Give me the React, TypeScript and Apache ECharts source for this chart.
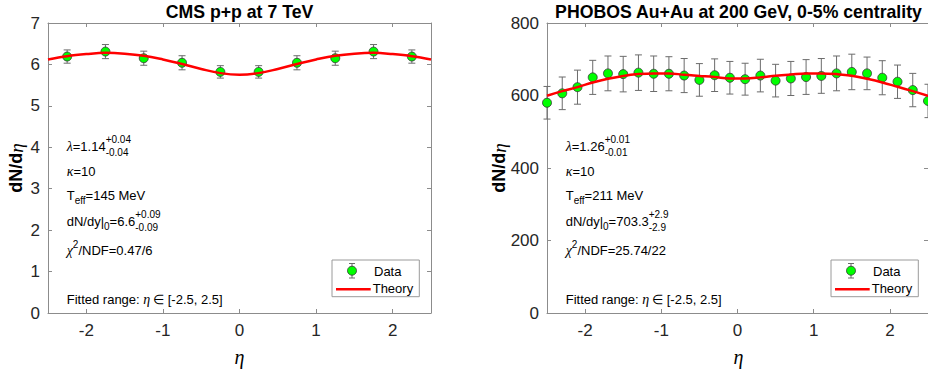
import React, { useEffect, useRef } from 'react';
import * as echarts from 'echarts';

// ---------- Data: CMS p+p at 7 TeV ----------
const cmsEta = [-2.25, -1.75, -1.25, -0.75, -0.25, 0.25, 0.75, 1.25, 1.75, 2.25];
const cmsVal = [6.19, 6.31, 6.15, 6.04, 5.82, 5.82, 6.04, 6.15, 6.31, 6.19];
const cmsErr = [0.16, 0.17, 0.17, 0.17, 0.15, 0.15, 0.17, 0.17, 0.17, 0.16];
const cmsTheoryEta = [-2.5, -2.25, -2, -1.75, -1.5, -1.25, -1, -0.75, -0.5, -0.25, 0, 0.25, 0.5, 0.75, 1, 1.25, 1.5, 1.75, 2, 2.25, 2.5];
const cmsTheoryVal = [6.12, 6.2, 6.25, 6.28, 6.26, 6.21, 6.12, 6.01, 5.89, 5.79, 5.75, 5.79, 5.89, 6.01, 6.12, 6.21, 6.26, 6.28, 6.25, 6.2, 6.12];

// ---------- Data: PHOBOS Au+Au at 200 GeV ----------
const phobosEta = [-2.5, -2.3, -2.1, -1.9, -1.7, -1.5, -1.3, -1.1, -0.9, -0.7, -0.5, -0.3, -0.1, 0.1, 0.3, 0.5, 0.7, 0.9, 1.1, 1.3, 1.5, 1.7, 1.9, 2.1, 2.3, 2.5];
const phobosVal = [580, 606, 623, 650, 661, 659, 663, 660, 660, 655, 643, 656, 649, 645, 655, 641, 647, 651, 654, 661, 665, 661, 649, 638, 615, 585];
const phobosErr = [45, 45, 47, 47, 48, 49, 49, 49, 47, 47, 45, 45, 45, 44, 45, 45, 47, 48, 48, 48, 49, 45, 47, 46, 46, 46];
const phobosTheoryEta = [-2.5, -2.3, -2.1, -1.9, -1.7, -1.5, -1.3, -1.1, -0.9, -0.7, -0.5, -0.3, -0.1, 0.1, 0.3, 0.5, 0.7, 0.9, 1.1, 1.3, 1.5, 1.7, 1.9, 2.1, 2.3, 2.5];
const phobosTheoryVal = [599.5, 612, 623, 636, 646, 654, 659, 661, 661, 657, 654, 651, 647, 647, 650, 654.5, 658, 661, 661, 659, 654.5, 646, 636, 624, 612, 599.5];

// ---------- Tick labels ----------
const etaTicks = [-2, -1, 0, 1, 2];
const cmsYTicks = { min: 0, max: 7, interval: 1 };
const phobosYTicks = { min: 0, max: 800, interval: 200 };

// ---------- Text ----------
const titles = ['CMS p+p at 7 TeV', 'PHOBOS Au+Au at 200 GeV, 0-5% centrality'];
const cmsFit = { lambda: ['1.14', '+0.04', '-0.04'], kappa: '10', teff: '145 MeV', dndy: ['6.6', '+0.09', '-0.09'], chi2: '0.47/6' };
const phobosFit = { lambda: ['1.26', '+0.01', '-0.01'], kappa: '10', teff: '211 MeV', dndy: ['703.3', '+2.9', '-2.9'], chi2: '25.74/22' };

const SANS = "'Liberation Sans', Arial, Helvetica, sans-serif";
const SERIF = "'Liberation Serif', 'Times New Roman', serif";
const AXIS_COLOR = '#8c8c8c';
const LABEL_COLOR = '#262626';

let measureCtx: CanvasRenderingContext2D | null = null;
function textWidth(text: string, size: number, family: string, style = 'normal') {
  if (!measureCtx) measureCtx = document.createElement('canvas').getContext('2d');
  measureCtx!.font = `${style} normal ${size}px ${family}`;
  return measureCtx!.measureText(text).width;
}

function txt(x: number, y: number, text: string, size: number, family: string, style: string) {
  return {
    type: 'text',
    x,
    y,
    silent: true,
    style: { text, fontSize: size, fontFamily: family, fontStyle: style, fill: '#000', align: 'left', verticalAlign: 'middle' },
  };
}

type Seg = any;
function lineElements(x0: number, y: number, segs: Seg[]) {
  const els: any[] = [];
  let x = x0;
  for (const s of segs) {
    if (s.sup !== undefined) {
      const w = Math.max(textWidth(s.sup, 10, SANS), textWidth(s.sub, 10, SANS));
      els.push(txt(x, y - 7, s.sup, 10, SANS, 'normal'));
      els.push(txt(x, y + 6, s.sub, 10, SANS, 'normal'));
      x += w;
    } else {
      const size = s.size ?? 13;
      const fam = s.serif ? SERIF : SANS;
      const st = s.italic ? 'italic' : 'normal';
      els.push(txt(x, y + (s.dy ?? 0), s.t, size, fam, st));
      x += textWidth(s.t, size, fam, st);
    }
  }
  return els;
}

function panelGraphics(dx: number, fit: any, yLabelX: number, centerX: number) {
  const x0 = 66.7 + dx;
  const els: any[] = [];
  els.push(...lineElements(x0, 146.5, [
    { t: 'λ', serif: true, italic: true, size: 14 },
    { t: '=' + fit.lambda[0] },
    { sup: fit.lambda[1], sub: fit.lambda[2] },
  ]));
  els.push(...lineElements(x0, 171.5, [
    { t: 'κ', serif: true, italic: true, size: 14 },
    { t: '=' + fit.kappa },
  ]));
  els.push(...lineElements(x0, 195, [
    { t: 'T' },
    { t: 'eff', size: 10, dy: 5 },
    { t: '=' + fit.teff },
  ]));
  els.push(...lineElements(x0, 221, [
    { t: 'dN/dy|' },
    { t: '0', size: 10, dy: 5 },
    { t: '=' + fit.dndy[0] },
    { sup: fit.dndy[1], sub: fit.dndy[2] },
  ]));
  els.push(...lineElements(x0, 250.5, [
    { t: 'χ', serif: true, italic: true, size: 14 },
    { t: '2', size: 10, dy: -6 },
    { t: '/NDF=' + fit.chi2 },
  ]));
  els.push(...lineElements(x0, 299, [
    { t: 'Fitted range: ' },
    { t: 'η', serif: true, italic: true, size: 14 },
    { t: ' ∈ ', serif: true, size: 13 },
    { t: '[-2.5, 2.5]' },
  ]));

  // legend
  const lx = 332 + dx;
  els.push({ type: 'rect', shape: { x: lx, y: 260, width: 87.3, height: 36.7 }, style: { fill: '#fff', stroke: '#9a9a9a', lineWidth: 1 }, z: 10 });
  const mx = 352 + dx;
  const ebStyle = { stroke: '#6b6b6b', lineWidth: 1 };
  els.push({ type: 'line', shape: { x1: mx, y1: 263.5, x2: mx, y2: 278 }, style: ebStyle, z: 11 });
  els.push({ type: 'line', shape: { x1: mx - 3, y1: 263.5, x2: mx + 3, y2: 263.5 }, style: ebStyle, z: 11 });
  els.push({ type: 'line', shape: { x1: mx - 3, y1: 278, x2: mx + 3, y2: 278 }, style: ebStyle, z: 11 });
  els.push({ type: 'circle', shape: { cx: mx, cy: 270.7, r: 4.5 }, style: { fill: '#00ff00', stroke: '#333', lineWidth: 0.8 }, z: 12 });
  els.push({ ...txt(374 + dx, 271, 'Data', 13, SANS, 'normal'), z: 12 });
  els.push({ type: 'line', shape: { x1: 336 + dx, y1: 289.3, x2: 370.7 + dx, y2: 289.3 }, style: { stroke: '#ff0000', lineWidth: 2.5 }, z: 11 });
  els.push({ ...txt(372.7 + dx, 288.5, 'Theory', 13, SANS, 'normal'), z: 12 });

  // axis names
  els.push({
    type: 'text',
    x: yLabelX,
    y: 168,
    rotation: Math.PI / 2,
    style: {
      text: '{a|dN/d}{b|η}',
      align: 'center',
      verticalAlign: 'middle',
      rich: {
        a: { fontSize: 18, fontWeight: 'bold', fontFamily: SANS, fill: '#000' },
        b: { fontSize: 19, fontStyle: 'italic', fontFamily: SERIF, fill: '#000' },
      },
    },
  });
  els.push({
    type: 'text',
    x: centerX,
    y: 357,
    style: { text: 'η', fontSize: 20, fontStyle: 'italic', fontFamily: SERIF, fill: '#000', align: 'center', verticalAlign: 'middle' },
  });
  return els;
}

function errorRender(params: any, api: any) {
  const x = api.value(0);
  const y = api.value(1);
  const e = api.value(2);
  const top = api.coord([x, y + e]);
  const bot = api.coord([x, y - e]);
  const cap = 3.5;
  const style = { stroke: '#6b6b6b', lineWidth: 1 };
  return {
    type: 'group',
    children: [
      { type: 'line', shape: { x1: top[0], y1: top[1], x2: bot[0], y2: bot[1] }, style },
      { type: 'line', shape: { x1: top[0] - cap, y1: top[1], x2: top[0] + cap, y2: top[1] }, style },
      { type: 'line', shape: { x1: bot[0] - cap, y1: bot[1], x2: bot[0] + cap, y2: bot[1] }, style },
    ],
  };
}

function xAxes(gridIndex: number) {
  const common = {
    type: 'value',
    gridIndex,
    min: -2.5,
    max: 2.5,
    splitLine: { show: false },
    axisLine: { show: true, onZero: false, lineStyle: { color: AXIS_COLOR, width: 1 } },
    axisTick: { show: true, inside: true, length: 4, customValues: etaTicks, lineStyle: { color: AXIS_COLOR } },
  };
  return [
    {
      ...common,
      position: 'bottom',
      axisLabel: { customValues: etaTicks, margin: 9, fontSize: 17, color: LABEL_COLOR, fontFamily: SANS },
    },
    { ...common, position: 'top', axisLabel: { show: false } },
  ];
}

function yAxes(gridIndex: number, t: { min: number; max: number; interval: number }) {
  const common = {
    type: 'value',
    gridIndex,
    min: t.min,
    max: t.max,
    interval: t.interval,
    splitLine: { show: false },
    axisLine: { show: true, onZero: false, lineStyle: { color: AXIS_COLOR, width: 1 } },
    axisTick: { show: true, inside: true, length: 4, lineStyle: { color: AXIS_COLOR } },
  };
  return [
    { ...common, position: 'left', axisLabel: { margin: 8, fontSize: 17, color: LABEL_COLOR, fontFamily: SANS } },
    { ...common, position: 'right', axisLabel: { show: false } },
  ];
}

function panelSeries(xi: number, yi: number, eta: number[], val: number[], err: number[], tEta: number[], tVal: number[]) {
  return [
    {
      type: 'custom',
      xAxisIndex: xi,
      yAxisIndex: yi,
      renderItem: errorRender,
      encode: { x: 0, y: 1 },
      data: eta.map((x, i) => [x, val[i], err[i]]),
      z: 2,
      silent: true,
    },
    {
      type: 'scatter',
      name: 'Data',
      xAxisIndex: xi,
      yAxisIndex: yi,
      symbol: 'circle',
      symbolSize: 9,
      itemStyle: { color: '#00ff00', borderColor: '#333', borderWidth: 0.8, opacity: 1 },
      data: eta.map((x, i) => [x, val[i]]),
      z: 3,
    },
    {
      type: 'line',
      name: 'Theory',
      xAxisIndex: xi,
      yAxisIndex: yi,
      smooth: 0.4,
      showSymbol: false,
      lineStyle: { color: '#ff0000', width: 2.5 },
      data: tEta.map((x, i) => [x, tVal[i]]),
      z: 4,
    },
  ];
}

export default function App() {
  const ref = useRef<HTMLDivElement>(null);
  useEffect(() => {
    if (!ref.current) return;
    const chart = echarts.init(ref.current, null, { renderer: 'svg' });
    const titleStyle = { fontSize: 17.7, fontWeight: 'bold', fontFamily: SANS, color: '#000', lineHeight: 18 };
    const option: any = {
      animation: false,
      backgroundColor: '#fff',
      title: [
        { text: titles[0], left: 239.5, top: 2.5, textAlign: 'center', padding: 0, textStyle: titleStyle },
        { text: titles[1], left: 738.5, top: 2.5, textAlign: 'center', padding: 0, textStyle: titleStyle },
      ],
      grid: [
        { left: 48, top: 23, width: 383, height: 290 },
        { left: 547, top: 23, width: 383, height: 290 },
      ],
      xAxis: [...xAxes(0), ...xAxes(1)],
      yAxis: [...yAxes(0, cmsYTicks), ...yAxes(1, phobosYTicks)],
      series: [
        ...panelSeries(0, 0, cmsEta, cmsVal, cmsErr, cmsTheoryEta, cmsTheoryVal),
        ...panelSeries(2, 2, phobosEta, phobosVal, phobosErr, phobosTheoryEta, phobosTheoryVal),
      ],
      graphic: [
        ...panelGraphics(0, cmsFit, 16, 239.5),
        ...panelGraphics(499, phobosFit, 499, 738.5),
      ],
    };
    chart.setOption(option);
    return () => chart.dispose();
  }, []);
  return <div ref={ref} style={{ position: 'absolute', left: 0, top: 0, width: 928, height: 373 }} />;
}
